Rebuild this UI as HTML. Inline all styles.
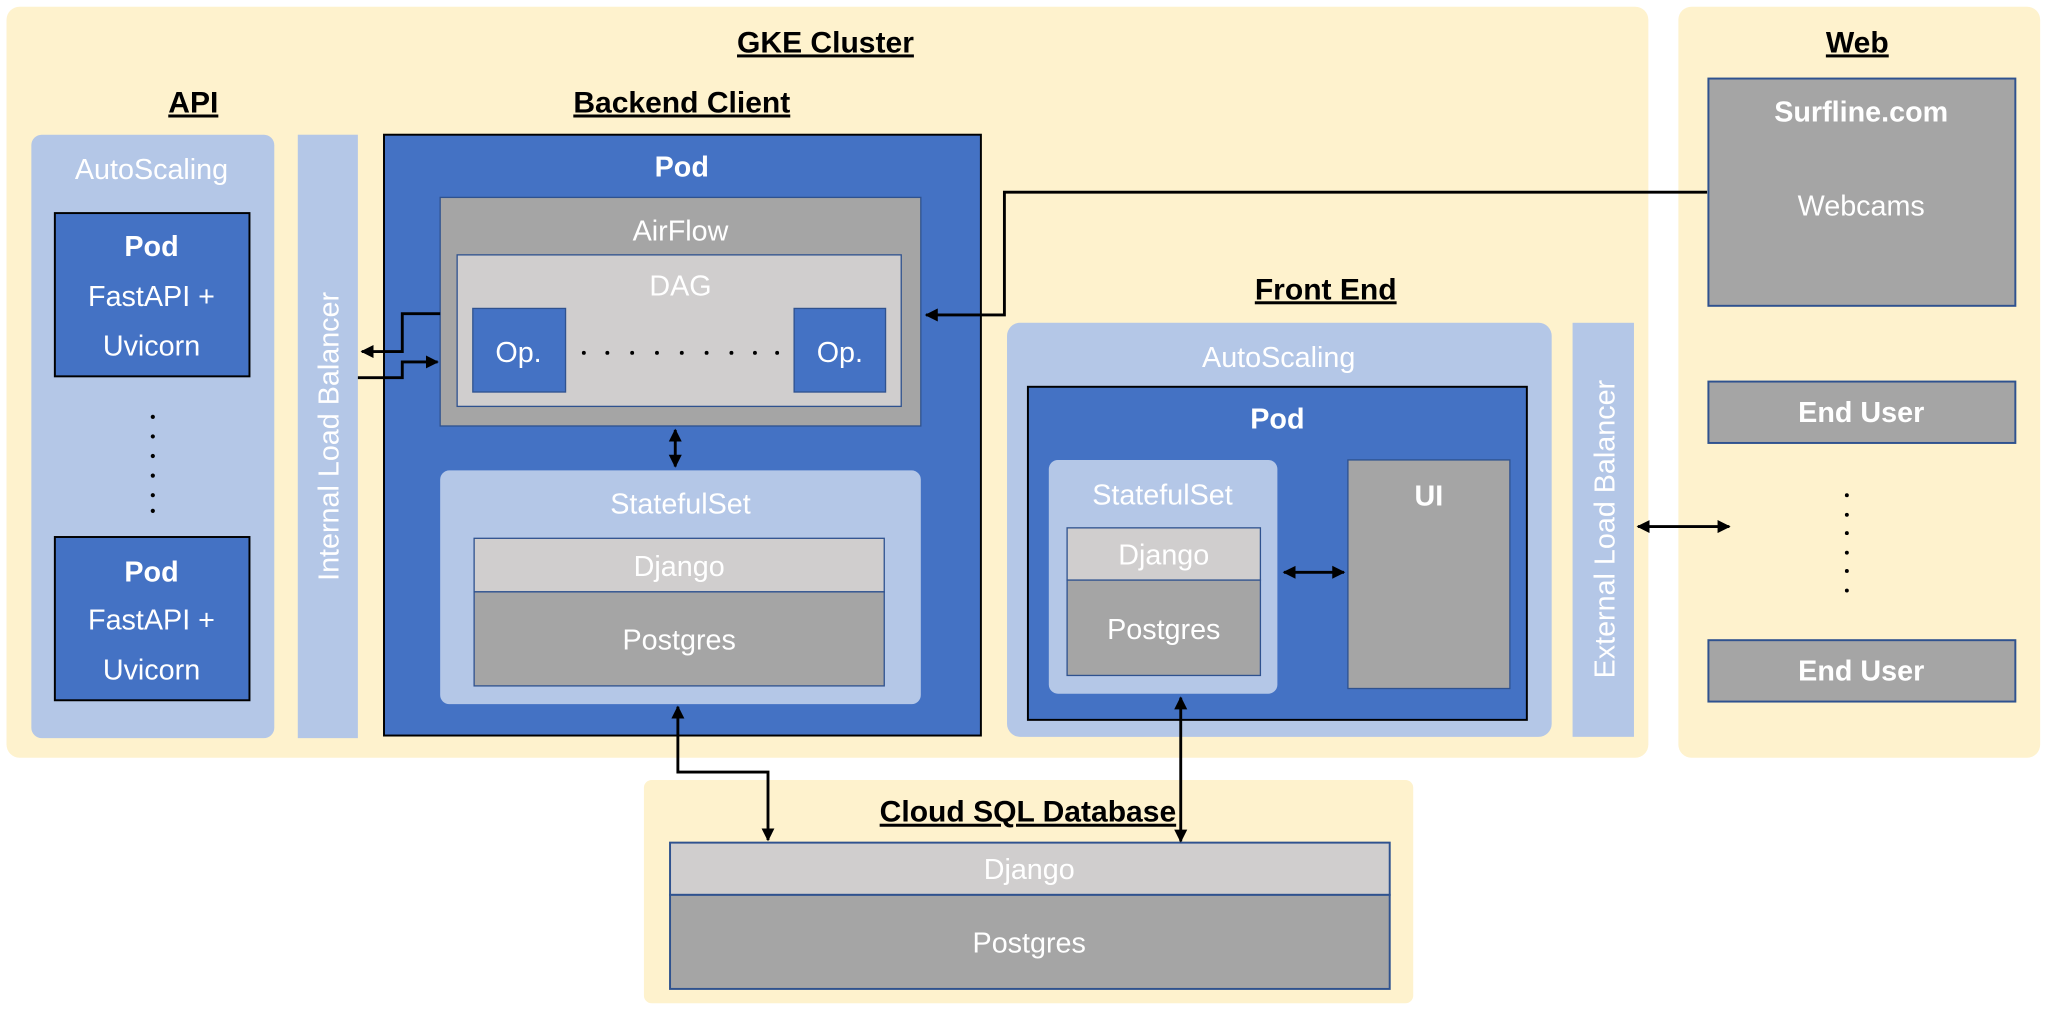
<!DOCTYPE html>
<html><head><meta charset="utf-8"><style>
html,body{margin:0;padding:0;background:#fff;}
svg{display:block;}
text{font-family:"Liberation Sans",sans-serif;}
.w{fill:#fff;font-size:22px;text-anchor:middle;}
.wb{fill:#fff;font-size:22px;font-weight:bold;text-anchor:middle;}
.t{fill:#000;font-size:23px;font-weight:bold;text-anchor:middle;text-decoration:underline;}
</style></head><body>
<svg width="2048" height="1010" viewBox="0 0 1568 773" xmlns="http://www.w3.org/2000/svg">
<defs>
<marker id="a" markerWidth="10" markerHeight="10" refX="9" refY="5" orient="auto" markerUnits="userSpaceOnUse"><path d="M0,0 L10,5 L0,10 z" fill="#000"/></marker>
<marker id="s" markerWidth="10" markerHeight="10" refX="1" refY="5" orient="auto" markerUnits="userSpaceOnUse"><path d="M10,0 L0,5 L10,10 z" fill="#000"/></marker>
</defs>
<rect width="1568" height="773" fill="#fff"/>
<rect x="5" y="5" width="1257" height="575" rx="10" fill="#FEF2CD"/>
<rect x="1285" y="5" width="277" height="575" rx="10" fill="#FEF2CD"/>
<rect x="493" y="597" width="589" height="171" rx="6" fill="#FEF2CD"/>
<text class="t" x="632" y="40">GKE Cluster</text>
<text class="t" x="1422" y="40">Web</text>
<text class="t" x="148" y="86">API</text>
<text class="t" x="522" y="86">Backend Client</text>
<text class="t" x="1015" y="229">Front End</text>
<text class="t" x="787" y="629">Cloud SQL Database</text>

<rect x="24" y="103" width="186" height="462" rx="8" fill="#B4C7E7"/>
<text class="w" x="116" y="137">AutoScaling</text>
<rect x="42" y="163" width="149" height="125" fill="#4472C4" stroke="#000" stroke-width="1.5"/>
<text class="wb" x="116" y="196">Pod</text>
<text class="w" x="116" y="234">FastAPI +</text>
<text class="w" x="116" y="272">Uvicorn</text>
<rect x="42" y="411" width="149" height="125" fill="#4472C4" stroke="#000" stroke-width="1.5"/>
<text class="wb" x="116" y="445">Pod</text>
<text class="w" x="116" y="482">FastAPI +</text>
<text class="w" x="116" y="520">Uvicorn</text>
<g fill="#000"><circle cx="117" cy="319" r="1.6"/><circle cx="117" cy="334" r="1.6"/><circle cx="117" cy="349" r="1.6"/><circle cx="117" cy="364" r="1.6"/><circle cx="117" cy="379" r="1.6"/><circle cx="117" cy="391" r="1.6"/></g>

<rect x="228" y="103" width="46" height="462" fill="#B4C7E7"/>
<text class="w" transform="translate(259,334) rotate(-90)">Internal Load Balancer</text>

<rect x="294" y="103" width="457" height="460" fill="#4472C4" stroke="#000" stroke-width="1.5"/>
<text class="wb" x="522" y="135">Pod</text>
<rect x="337" y="151" width="368" height="175" fill="#A5A5A5" stroke="#2F528F"/>
<text class="w" x="521" y="184">AirFlow</text>
<rect x="350" y="195" width="340" height="116" fill="#D0CECE" stroke="#2F528F"/>
<text class="w" x="521" y="226">DAG</text>
<rect x="362" y="236" width="71" height="64" fill="#4472C4" stroke="#2F528F"/>
<text class="w" x="397" y="277">Op.</text>
<rect x="608" y="236" width="70" height="64" fill="#4472C4" stroke="#2F528F"/>
<text class="w" x="643" y="277">Op.</text>
<g fill="#000"><circle cx="447" cy="270" r="1.5"/><circle cx="465" cy="270" r="1.5"/><circle cx="484" cy="270" r="1.5"/><circle cx="503" cy="270" r="1.5"/><circle cx="522" cy="270" r="1.5"/><circle cx="541" cy="270" r="1.5"/><circle cx="560" cy="270" r="1.5"/><circle cx="578" cy="270" r="1.5"/><circle cx="595" cy="270" r="1.5"/></g>
<rect x="337" y="360" width="368" height="179" rx="7" fill="#B4C7E7"/>
<text class="w" x="521" y="393">StatefulSet</text>
<rect x="363" y="412" width="314" height="41" fill="#D0CECE" stroke="#2F528F"/>
<text class="w" x="520" y="441">Django</text>
<rect x="363" y="453" width="314" height="72" fill="#A5A5A5" stroke="#2F528F"/>
<text class="w" x="520" y="497">Postgres</text>

<rect x="771" y="247" width="417" height="317" rx="10" fill="#B4C7E7"/>
<text class="w" x="979" y="281">AutoScaling</text>
<rect x="787" y="296" width="382" height="255" fill="#4472C4" stroke="#000" stroke-width="1.5"/>
<text class="wb" x="978" y="328">Pod</text>
<rect x="803" y="352" width="175" height="179" rx="7" fill="#B4C7E7"/>
<text class="w" x="890" y="386">StatefulSet</text>
<rect x="817" y="404" width="148" height="40" fill="#D0CECE" stroke="#2F528F"/>
<text class="w" x="891" y="432">Django</text>
<rect x="817" y="444" width="148" height="73" fill="#A5A5A5" stroke="#2F528F"/>
<text class="w" x="891" y="489">Postgres</text>
<rect x="1032" y="352" width="124" height="175" fill="#A5A5A5" stroke="#2F528F"/>
<text class="wb" x="1094" y="387">UI</text>
<rect x="1204" y="247" width="47" height="317" fill="#B4C7E7"/>
<text class="w" transform="translate(1236,405) rotate(-90)">External Load Balancer</text>

<rect x="1308" y="60" width="235" height="174" fill="#A5A5A5" stroke="#2F528F" stroke-width="1.5"/>
<text class="wb" x="1425" y="93">Surfline.com</text>
<text class="w" x="1425" y="165">Webcams</text>
<rect x="1308" y="292" width="235" height="47" fill="#A5A5A5" stroke="#2F528F" stroke-width="1.5"/>
<text class="wb" x="1425" y="323">End User</text>
<rect x="1308" y="490" width="235" height="47" fill="#A5A5A5" stroke="#2F528F" stroke-width="1.5"/>
<text class="wb" x="1425" y="521">End User</text>
<g fill="#000"><circle cx="1414" cy="379" r="1.5"/><circle cx="1414" cy="394" r="1.5"/><circle cx="1414" cy="408" r="1.5"/><circle cx="1414" cy="423" r="1.5"/><circle cx="1414" cy="437" r="1.5"/><circle cx="1414" cy="452" r="1.5"/></g>

<rect x="513" y="645" width="551" height="40" fill="#D0CECE" stroke="#2F528F" stroke-width="1.5"/>
<text class="w" x="788" y="673">Django</text>
<rect x="513" y="685" width="551" height="72" fill="#A5A5A5" stroke="#2F528F" stroke-width="1.5"/>
<text class="w" x="788" y="729">Postgres</text>

<g stroke="#000" stroke-width="2.2" fill="none">
<polyline points="337,240 308,240 308,269 277,269" marker-end="url(#a)"/>
<polyline points="274,289 308,289 308,277 335,277" marker-end="url(#a)"/>
<polyline points="1307,147 769,147 769,241 709,241" marker-end="url(#a)"/>
<line x1="517" y1="329" x2="517" y2="357" marker-start="url(#s)" marker-end="url(#a)"/>
<line x1="983" y1="438" x2="1029" y2="438" marker-start="url(#s)" marker-end="url(#a)"/>
<line x1="1254" y1="403" x2="1324" y2="403" marker-start="url(#s)" marker-end="url(#a)"/>
<polyline points="519,541 519,591 588,591 588,643" marker-start="url(#s)" marker-end="url(#a)"/>
<line x1="904" y1="534" x2="904" y2="644" marker-start="url(#s)" marker-end="url(#a)"/>
</g>
</svg>
</body></html>
